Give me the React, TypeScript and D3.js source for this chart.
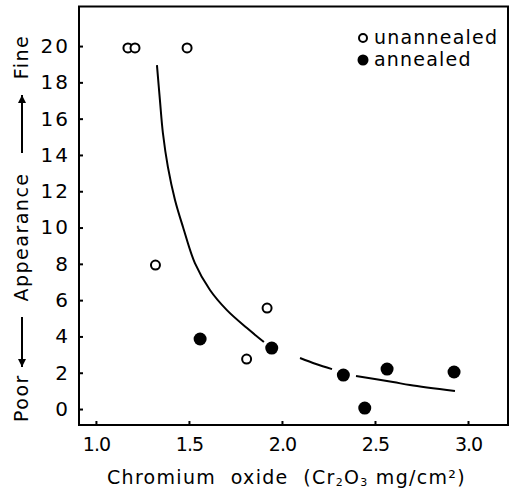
import React, { useRef, useEffect } from "react";
import * as d3 from "d3";

// tick values
const xTicks = [1.0, 1.5, 2.0, 2.5, 3.0];
const yTicks = [0, 2, 4, 6, 8, 10, 12, 14, 16, 18, 20];

// open circles
const unannealedX = [1.172, 1.21, 1.49, 1.32, 1.81, 1.92];
const unannealedY = [19.9, 19.9, 19.9, 7.93, 2.75, 5.56];

// filled circles
const annealedX = [1.56, 1.945, 2.33, 2.445, 2.565, 2.925];
const annealedY = [3.86, 3.36, 1.87, 0.05, 2.2, 2.04];

// hand-drawn trend curve, broken into pieces as in the figure
const curveX1 = [1.328, 1.344, 1.36, 1.387, 1.425, 1.468, 1.532, 1.613, 1.704, 1.812, 1.903];
const curveY1 = [18.95, 17.02, 15.21, 13.33, 11.52, 10.03, 8.04, 6.56, 5.45, 4.46, 3.69];
const curveX2 = [2.097, 2.183, 2.269];
const curveY2 = [2.81, 2.48, 2.2];
const curveX3 = [2.398, 2.597, 2.688, 2.93];
const curveY3 = [1.82, 1.49, 1.32, 0.99];

const W = 512;
const H = 490;
const margin = { top: 6.5, right: 4, bottom: 65, left: 79 };
const font = "'DejaVu Sans', sans-serif";

const zip = (xs: number[], ys: number[]) => xs.map((x, i) => ({ x, y: ys[i] }));

const App = () => {
    const svgRef = useRef<SVGSVGElement>(null);

    useEffect(() => {
        const svg = d3.select(svgRef.current);
        svg.selectAll("*").remove();

        const iw = W - margin.left - margin.right;
        const ih = H - margin.top - margin.bottom;

        const x = d3.scaleLinear().domain([0.909, 3.215]).range([0, iw]);
        const y = d3.scaleLinear().domain([-0.88, 22.18]).range([ih, 0]);

        const g = svg.append("g").attr("transform", `translate(${margin.left},${margin.top})`);

        // frame
        g.append("rect")
            .attr("width", iw)
            .attr("height", ih)
            .attr("fill", "none")
            .attr("stroke", "#000")
            .attr("stroke-width", 2);

        const yAxis = d3.axisLeft(y)
            .tickValues(yTicks)
            .tickFormat((d) => `${d}`)
            .tickSizeInner(-4)
            .tickSizeOuter(0)
            .tickPadding(9);
        const ya = g.append("g").call(yAxis);
        ya.select(".domain").remove();
        ya.selectAll("line").attr("stroke-width", 2);
        ya.selectAll("text")
            .attr("font-family", font)
            .attr("font-size", 20)
            .attr("letter-spacing", 2)
            .attr("fill", "#000");

        const xAxis = d3.axisBottom(x)
            .tickValues(xTicks)
            .tickFormat(d3.format(".1f"))
            .tickSizeInner(-4)
            .tickSizeOuter(0)
            .tickPadding(13);
        const xa = g.append("g").attr("transform", `translate(0,${ih})`).call(xAxis);
        xa.select(".domain").remove();
        xa.selectAll("line").attr("stroke-width", 2);
        xa.selectAll("text")
            .attr("font-family", font)
            .attr("font-size", 19)
            .attr("letter-spacing", -1)
            .attr("fill", "#000");

        // trend curve
        const curveLine = d3.line<{ x: number; y: number }>()
            .x((d) => x(d.x))
            .y((d) => y(d.y))
            .curve(d3.curveCatmullRom);
        g.selectAll(".trend")
            .data([zip(curveX1, curveY1), zip(curveX2, curveY2), zip(curveX3, curveY3)])
            .join("path")
            .attr("class", "trend")
            .attr("d", curveLine)
            .attr("fill", "none")
            .attr("stroke", "#000")
            .attr("stroke-width", 2);

        g.selectAll(".open")
            .data(zip(unannealedX, unannealedY))
            .join("circle")
            .attr("class", "open")
            .attr("cx", (d) => x(d.x))
            .attr("cy", (d) => y(d.y))
            .attr("r", 4.5)
            .attr("fill", "#fff")
            .attr("stroke", "#000")
            .attr("stroke-width", 2);

        g.selectAll(".filled")
            .data(zip(annealedX, annealedY))
            .join("circle")
            .attr("class", "filled")
            .attr("cx", (d) => x(d.x))
            .attr("cy", (d) => y(d.y))
            .attr("r", 6.5)
            .attr("fill", "#000");

        // legend
        const lg = svg.append("g").attr("font-family", font).attr("font-size", 19).attr("letter-spacing", 1.2);
        lg.append("circle").attr("cx", 363).attr("cy", 38).attr("r", 4)
            .attr("fill", "#fff").attr("stroke", "#000").attr("stroke-width", 2);
        lg.append("text").attr("x", 374).attr("y", 44).text("unannealed");
        lg.append("circle").attr("cx", 363).attr("cy", 60).attr("r", 5.5).attr("fill", "#000");
        lg.append("text").attr("x", 374).attr("y", 66).text("annealed");

        // x label
        const xl = svg.append("text")
            .attr("x", 107)
            .attr("y", 484)
            .attr("font-family", font)
            .attr("font-size", 19)
            .attr("letter-spacing", 1.3)
            .attr("xml:space", "preserve")
            .style("white-space", "pre");
        xl.append("tspan").text("Chromium  oxide  (Cr");
        xl.append("tspan").attr("font-size", 11).attr("dy", 2).text("2");
        xl.append("tspan").attr("dy", -2).text("O");
        xl.append("tspan").attr("font-size", 11).attr("dy", 2).text("3");
        xl.append("tspan").attr("dy", -2).text(" mg/cm²)");

        // y label with arrows
        const yl = svg.append("g").attr("font-family", font).attr("font-size", 19).attr("letter-spacing", 1.5);
        const vtext = (cy: number, s: string) =>
            yl.append("text")
                .attr("transform", `translate(28,${cy}) rotate(-90)`)
                .attr("text-anchor", "middle")
                .text(s);
        vtext(398, "Poor");
        vtext(237, "Appearance");
        vtext(57, "Fine");

        const arrow = (y0: number, y1: number) => {
            const dir = Math.sign(y1 - y0);
            yl.append("line").attr("x1", 22).attr("x2", 22).attr("y1", y0).attr("y2", y1)
                .attr("stroke", "#000").attr("stroke-width", 2);
            yl.append("path")
                .attr("d", `M18,${y1 - dir * 8}L22,${y1}L26,${y1 - dir * 8}Z`)
                .attr("fill", "#000");
        };
        arrow(153, 95);
        arrow(317, 367);
    }, []);

    return (
        <svg
            ref={svgRef}
            width={W}
            height={H}
            style={{ position: "absolute", left: 0, top: 0, background: "#fff" }}
        />
    );
};

export default App;
